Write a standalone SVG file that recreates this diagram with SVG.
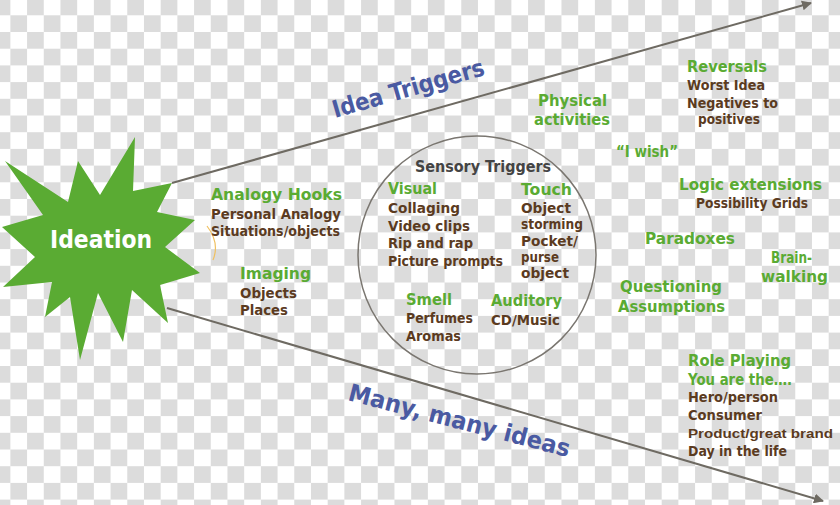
<svg xmlns="http://www.w3.org/2000/svg" width="840" height="505" viewBox="0 0 840 505">
<defs>
<pattern id="chk" patternUnits="userSpaceOnUse" x="-6.33" y="-1.4" width="33.4" height="33.4">
<rect width="33.4" height="33.4" fill="#ffffff"/>
<rect width="16.7" height="16.7" fill="#dcdcdc"/>
<rect x="16.7" y="16.7" width="16.7" height="16.7" fill="#dcdcdc"/>
</pattern>
<marker id="ah" viewBox="0 0 10 10" refX="9" refY="5" markerWidth="5" markerHeight="5" orient="auto" markerUnits="strokeWidth">
<path d="M0,0 L10,5 L0,10 z" fill="#6e6a62"/>
</marker>
<style>
text{font-family:"DejaVu Sans",Lato,sans-serif;font-weight:bold}
.g{fill:#5aab33;font-size:16px}
.b{fill:#5b3b1f;font-size:13.5px}
.d{fill:#444444;font-size:15px}
.bl{fill:#4a5aa2;font-size:24px}
.ln{stroke:#6e6a62;stroke-width:2;fill:none}
</style>
</defs>
<rect width="840" height="505" fill="url(#chk)"/>
<g id="connectors">
<line class="ln" x1="172" y1="183" x2="811" y2="3" marker-end="url(#ah)"/>
<line class="ln" x1="167" y1="308" x2="823" y2="501" marker-end="url(#ah)"/>
<path d="M207,226 Q220,243 213,260" stroke="#f0c060" stroke-width="1.2" fill="none"/>
</g>
<g id="ideation">
<polygon fill="#5aab33" points="135,137 133,191 172,183 157,212 195,220 165,247 200,273 160,285 168,323 132,290 123,342 98,293 80,360 70,297 45,317 52,282 3,287 35,257 2,227 43,215 5,161 68,202 78,161 100,195"/>
<text x="50" y="248" fill="#ffffff" font-size="24" textLength="102" lengthAdjust="spacingAndGlyphs">Ideation</text>
</g>
<g id="label-idea-triggers">
<text class="bl" transform="translate(335,118) rotate(-16)" textLength="157" lengthAdjust="spacingAndGlyphs">Idea Triggers</text>
</g>
<g id="label-many-ideas">
<text class="bl" transform="translate(347,400) rotate(14.5)" textLength="228" lengthAdjust="spacingAndGlyphs">Many, many ideas</text>
</g>
<g id="sensory-triggers">
<circle cx="477" cy="255" r="119" fill="none" stroke="#7a7670" stroke-width="1.5"/>
<text class="d" x="415" y="172" textLength="136" lengthAdjust="spacingAndGlyphs">Sensory Triggers</text>
</g>
<g id="visual">
<text class="g" x="388" y="194" textLength="49" lengthAdjust="spacingAndGlyphs">Visual</text>
<text class="b" x="388" y="213" textLength="72" lengthAdjust="spacingAndGlyphs">Collaging</text>
<text class="b" x="388" y="231" textLength="82" lengthAdjust="spacingAndGlyphs">Video clips</text>
<text class="b" x="388" y="248" textLength="85" lengthAdjust="spacingAndGlyphs">Rip and rap</text>
<text class="b" x="388" y="266" textLength="115" lengthAdjust="spacingAndGlyphs">Picture prompts</text>
</g>
<g id="touch">
<text class="g" x="521" y="195" textLength="51" lengthAdjust="spacingAndGlyphs">Touch</text>
<text class="b" x="521" y="213" textLength="50" lengthAdjust="spacingAndGlyphs">Object</text>
<text class="b" x="521" y="229" textLength="62" lengthAdjust="spacingAndGlyphs">storming</text>
<text class="b" x="521" y="246" textLength="57" lengthAdjust="spacingAndGlyphs">Pocket/</text>
<text class="b" x="521" y="262" textLength="38" lengthAdjust="spacingAndGlyphs">purse</text>
<text class="b" x="521" y="278" textLength="48" lengthAdjust="spacingAndGlyphs">object</text>
</g>
<g id="smell">
<text class="g" x="406" y="305" textLength="46" lengthAdjust="spacingAndGlyphs">Smell</text>
<text class="b" x="406" y="323" textLength="67" lengthAdjust="spacingAndGlyphs">Perfumes</text>
<text class="b" x="406" y="341" textLength="55" lengthAdjust="spacingAndGlyphs">Aromas</text>
</g>
<g id="auditory">
<text class="g" x="491" y="306" textLength="71" lengthAdjust="spacingAndGlyphs">Auditory</text>
<text class="b" x="491" y="325" textLength="69" lengthAdjust="spacingAndGlyphs">CD/Music</text>
</g>
<g id="analogy-hooks">
<text class="g" x="211" y="200" textLength="131" lengthAdjust="spacingAndGlyphs">Analogy Hooks</text>
<text class="b" x="211" y="219" textLength="130" lengthAdjust="spacingAndGlyphs">Personal Analogy</text>
<text class="b" x="211" y="236" textLength="129" lengthAdjust="spacingAndGlyphs">Situations/objects</text>
</g>
<g id="imaging">
<text class="g" x="240" y="279" textLength="71" lengthAdjust="spacingAndGlyphs">Imaging</text>
<text class="b" x="240" y="298" textLength="57" lengthAdjust="spacingAndGlyphs">Objects</text>
<text class="b" x="240" y="315" textLength="48" lengthAdjust="spacingAndGlyphs">Places</text>
</g>
<g id="physical-activities">
<text class="g" x="538" y="106" textLength="69" lengthAdjust="spacingAndGlyphs">Physical</text>
<text class="g" x="534" y="125" textLength="76" lengthAdjust="spacingAndGlyphs">activities</text>
</g>
<g id="reversals">
<text class="g" x="687" y="72" textLength="80" lengthAdjust="spacingAndGlyphs">Reversals</text>
<text class="b" x="687" y="90" textLength="78" lengthAdjust="spacingAndGlyphs">Worst Idea</text>
<text class="b" x="687" y="108" textLength="91" lengthAdjust="spacingAndGlyphs">Negatives to</text>
<text class="b" x="698" y="124" textLength="62" lengthAdjust="spacingAndGlyphs">positives</text>
</g>
<g id="i-wish">
<text class="g" x="616" y="157" textLength="62" lengthAdjust="spacingAndGlyphs">“I wish”</text>
</g>
<g id="logic-extensions">
<text class="g" x="679" y="190" textLength="143" lengthAdjust="spacingAndGlyphs">Logic extensions</text>
<text class="b" x="696" y="208" textLength="112" lengthAdjust="spacingAndGlyphs">Possibility Grids</text>
</g>
<g id="paradoxes">
<text class="g" x="645" y="244" textLength="90" lengthAdjust="spacingAndGlyphs">Paradoxes</text>
</g>
<g id="brain-walking">
<text class="g" x="771" y="263" textLength="41" lengthAdjust="spacingAndGlyphs">Brain-</text>
<text class="g" x="761" y="282" textLength="67" lengthAdjust="spacingAndGlyphs">walking</text>
</g>
<g id="questioning-assumptions">
<text class="g" x="620" y="292" textLength="102" lengthAdjust="spacingAndGlyphs">Questioning</text>
<text class="g" x="618" y="312" textLength="107" lengthAdjust="spacingAndGlyphs">Assumptions</text>
</g>
<g id="role-playing">
<text class="g" x="688" y="366" textLength="103" lengthAdjust="spacingAndGlyphs">Role Playing</text>
<text class="g" x="688" y="385" font-size="14" textLength="104" lengthAdjust="spacingAndGlyphs">You are the….</text>
<text class="b" x="688" y="402" textLength="90" lengthAdjust="spacingAndGlyphs">Hero/person</text>
<text class="b" x="688" y="420" textLength="74" lengthAdjust="spacingAndGlyphs">Consumer</text>
<text class="b" x="688" y="438" font-size="14" style="font-family:'Liberation Sans',Arial,sans-serif" textLength="145" lengthAdjust="spacingAndGlyphs">Product/great brand</text>
<text class="b" x="688" y="456" textLength="99" lengthAdjust="spacingAndGlyphs">Day in the life</text>
</g>
</svg>
